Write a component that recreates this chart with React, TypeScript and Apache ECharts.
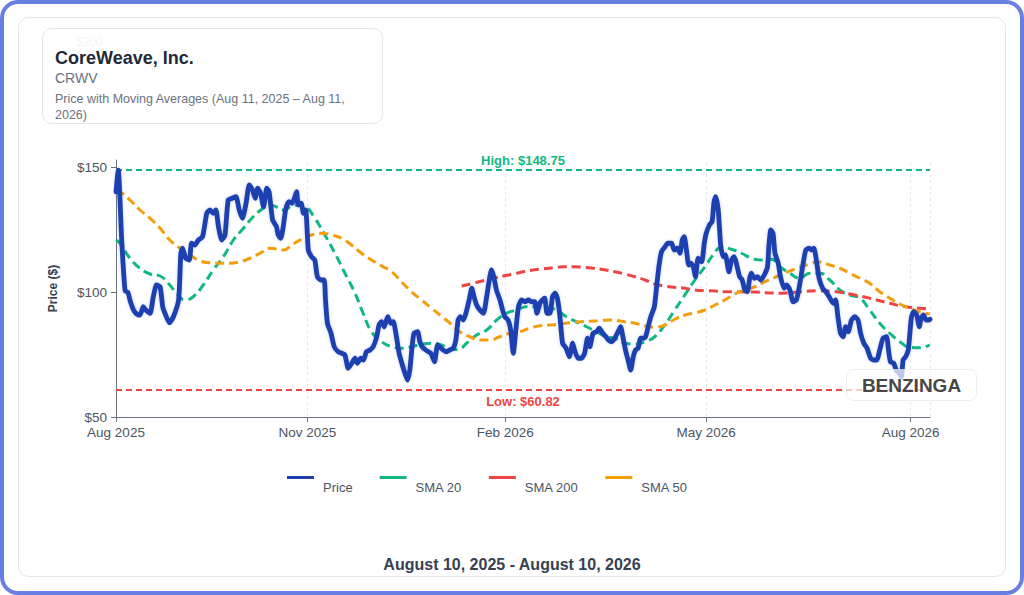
import React, { useEffect, useRef } from "react";
import * as echarts from "echarts";

// ---------- calendar (x categories = trading days) ----------
const START_DATE = "2025-08-11";
const END_DATE = "2026-08-11";
const MARKET_HOLIDAYS = [
  "2025-09-01", "2025-11-27", "2025-12-25", "2026-01-01", "2026-01-19",
  "2026-02-16", "2026-04-03", "2026-05-25", "2026-06-19", "2026-07-03",
];
const TICK_MONTHS = [1, 4, 7, 10]; // Feb, May, Aug, Nov
const MONTH_NAMES = ["Jan", "Feb", "Mar", "Apr", "May", "Jun", "Jul", "Aug", "Sep", "Oct", "Nov", "Dec"];

// ---------- values: [trading-day index, value] ----------
const PRICE: [number, number][] = [
  [0,140.1],[0.7,148.75],[1.75,121],[2.8,100.5],[3.7,99.8],[4.3,96.8],[5.4,92.8],[6.4,91.2],[7.4,90.8],[8.4,94.1],
  [9.2,92.8],[10.5,91.5],[11.5,98.1],[12.5,102.8],[13.6,102.1],[14.4,94.1],[15.1,91.5],[16.5,87.7],[17.7,90.1],[19.3,96.8],
  [20.0,115.5],[20.5,117.5],[21.5,113.5],[22.6,112.8],[23.3,119.5],[24.3,118.8],[25.4,120.8],[26.7,122.1],[28.0,131.5],[29.0,132.8],
  [30.0,131.5],[30.8,132.8],[31.6,126.1],[32.6,120.8],[33.6,122.8],[34.6,136.8],[35.9,137.5],[37.0,138.1],[38.0,132.8],[39.0,129.5],
  [40.1,135.5],[41.1,142.8],[42.1,140.8],[42.9,137.5],[43.7,141.5],[44.6,139.5],[45.5,134.1],[46.5,141.5],[47.2,140.1],[48.3,128.8],
  [49.5,126.1],[50.0,122.8],[50.8,121.5],[51.5,125.5],[52.3,132.8],[53.3,136.1],[54.3,135.5],[55.0,137.5],[55.7,140.1],[56.2,134.8],
  [57.1,135.5],[57.8,131.5],[58.5,132.8],[59.3,116.8],[60.3,114.1],[61.3,112.8],[62.1,106.1],[63.2,104.8],[64.2,104.8],[64.6,96.8],
  [65.2,87.5],[66.3,83.5],[67.3,78.1],[68.5,76.1],[69.6,75.5],[70.6,74.8],[71.6,69.5],[72.7,71.5],[73.7,73.5],[74.4,71.5],
  [75.5,73.5],[76.3,72.8],[77.2,76.1],[78.3,76.8],[79.3,78.1],[80.4,82.1],[81.1,86.8],[81.9,88.1],[82.7,86.1],[83.8,90.1],
  [84.8,87.5],[85.5,88.1],[86.3,83.5],[87.3,75.5],[88.0,72.1],[89.1,67.5],[89.9,64.8],[90.6,68.8],[91.3,78.1],[91.9,83.5],
  [93.0,84.1],[93.7,80.1],[94.4,78.1],[95.5,76.8],[96.3,76.1],[97.1,75.5],[98.2,72.1],[99.2,78.8],[100.2,77.5],[100.9,76.8],
  [101.9,76.1],[102.9,76.8],[104.0,77.5],[104.8,80.8],[105.5,88.8],[106.2,90.1],[107.1,88.8],[107.9,91.5],[108.9,96.8],[109.7,101.5],
  [110.4,98.1],[111.2,94.8],[112.2,92.8],[113.3,91.5],[114.3,98.1],[115.1,104.8],[115.8,108.8],[116.5,106.1],[117.3,100.8],[118.4,96.8],
  [119.2,92.8],[119.9,90.1],[120.9,88.8],[121.7,84.8],[122.5,75.5],[123.3,84.8],[124.1,94.1],[125.1,96.8],[126.1,96.1],[127.2,96.8],
  [128.1,96.1],[129.1,96.1],[129.8,91.5],[130.7,95.5],[131.5,96.8],[132.2,97.5],[132.9,91.5],[133.8,91.5],[134.6,98.1],[135.4,99.5],
  [136.1,97.5],[136.9,90.1],[137.7,79.5],[138.8,77.5],[139.8,74.1],[140.8,79.5],[141.4,76.8],[142.5,73.5],[143.5,73.5],[144.5,75.5],
  [145.4,81.5],[146.1,78.1],[147.1,83.5],[148.2,84.1],[149.0,85.5],[150.1,83.5],[151.1,82.1],[151.8,80.8],[152.8,80.1],[153.8,81.5],
  [154.8,84.1],[155.6,86.1],[156.3,82.1],[157.1,76.8],[157.9,72.8],[158.7,68.8],[159.5,74.1],[160.2,76.8],[161.0,77.5],[161.8,81.5],
  [162.6,81.5],[163.3,82.1],[164.1,86.1],[164.9,90.1],[166.0,94.1],[166.7,102.1],[167.4,110.1],[168.2,116.1],[169.2,117.9],[170.2,119.5],
  [171.3,119.5],[172.1,116.8],[173.1,117.5],[173.9,115.5],[174.6,120.8],[175.2,122.1],[175.9,116.8],[176.6,110.8],[177.3,111.5],[178.0,110.1],
  [178.7,106.1],[179.5,113.5],[180.6,112.1],[181.4,119.5],[182.0,123.5],[183.0,126.8],[183.8,128.1],[184.4,136.1],[184.9,138.1],[185.7,132.8],
  [186.5,118.1],[187.3,114.1],[187.9,114.8],[189.0,108.1],[189.8,112.8],[190.6,114.1],[191.3,111.5],[192.3,106.1],[193.1,104.8],[193.9,100.8],
  [194.7,100.1],[195.4,105.5],[195.9,107.5],[196.8,105.5],[197.8,106.1],[198.8,104.8],[199.9,106.8],[200.9,110.1],[201.3,118.1],[201.9,124.8],
  [202.6,123.5],[203.2,115.5],[204.2,111.5],[204.9,106.1],[206.0,101.5],[206.8,102.8],[207.8,100.8],[208.8,96.1],[209.8,96.8],[210.8,102.8],
  [211.9,111.5],[212.7,116.8],[213.7,117.5],[214.5,116.8],[215.2,117.5],[216.1,111.5],[216.8,105.5],[217.9,101.5],[218.9,100.1],[219.9,98.1],
  [221.2,95.5],[221.9,96.8],[222.6,90.1],[223.4,83.5],[224.2,82.1],[225.0,86.1],[225.8,84.1],[226.8,88.8],[227.8,90.1],[228.8,88.8],
  [229.6,83.5],[230.6,79.5],[231.6,77.5],[232.7,73.5],[233.7,72.8],[234.6,72.8],[235.5,76.8],[236.5,81.5],[237.6,82.1],[238.2,76.8],
  [238.8,72.1],[239.8,71.5],[240.6,68.8],[241.5,67.5],[242.2,66.1],[242.7,72.8],[243.5,74.1],[244.3,76.8],[244.8,83.5],[245.3,90.1],
  [246.0,92.1],[246.9,90.8],[247.7,86.1],[248.3,89.5],[249.0,90.8],[249.8,88.8],[250.6,88.8],[251,89.1],
];

const SMA20: [number, number][] = [
  [0,120.8],[1.2,119.5],[4.3,113.5],[7.4,109.5],[10.5,107.2],[13.6,106.4],[16.1,103.5],[18.7,99.5],[21.3,96.8],[23.8,98.1],
  [26.9,102.8],[30,108.8],[33.1,114.1],[36.2,120.8],[39.3,125.5],[42.3,130.1],[45.4,133.5],[47.5,134.8],[49.5,134],[51.5,132.8],
  [55.2,134.8],[58.3,134.1],[61.3,129.5],[64.4,122.8],[67.5,115.5],[70.6,107.5],[73.7,99.5],[76.2,91.5],[78.8,84.1],[81.9,80.1],
  [85,78.1],[88.1,77.5],[91.1,78.1],[94.2,79.1],[97.3,79.5],[100.4,78.8],[103,77],[105.5,77],[108.1,79.5],[111.2,82.8],
  [114.3,84.8],[117.4,88.8],[120.4,91.5],[123.5,92.8],[126.6,94.1],[129.7,94.1],[132.8,93.9],[135.8,92.8],[138.9,90.1],[142,88.1],
  [145.1,86.1],[148.2,84.1],[151.2,82.1],[153.8,81.5],[156.8,79.5],[160,79.2],[163.1,80.1],[166.1,82.1],[169.2,86.8],[172.3,92.8],
  [175.4,98.8],[178.5,104.8],[181.6,110.1],[184.1,114.8],[186.7,117.9],[189.8,117.1],[192.9,115.5],[196,113.5],[199,112.8],[202.1,113.1],
  [204.7,110.1],[207.8,107.5],[210.8,105.5],[213.9,107.5],[217,107.5],[220.1,104.8],[223.2,100.8],[226.3,98.8],[229.4,97.5],[232.4,92.8],
  [235.5,87.5],[238.6,83.5],[241.7,80.1],[244.8,77.9],[247.8,77.7],[250.9,78.8],
];

const SMA50: [number, number][] = [
  [0,140.5],[1.2,140.1],[4.3,136.8],[7.4,132.8],[10.5,129.5],[13.6,125.5],[16.6,120.8],[19.7,117.5],[22.8,114.8],[25.9,112.4],
  [29,111.7],[32.1,111.5],[35.1,111.5],[38.2,112.1],[41.3,113.5],[44.4,115.5],[47.5,117.5],[51.6,116.8],[54.2,118.8],[57.2,121.1],
  [60.3,122.8],[63.4,123.5],[66.5,122.8],[69.6,121.5],[72.6,118.8],[75.7,115.5],[78.8,112.8],[81.9,110.4],[85,108.1],[88,104.1],
  [91.1,100.1],[94.2,96.8],[97.3,93.5],[100.2,90.5],[103,87.5],[106,84.1],[109.1,82.1],[112.2,80.8],[115.3,80.8],[118.3,82.1],
  [121.4,83.5],[124.5,84.1],[127.6,85.5],[130.7,86.5],[133.8,86.8],[136.9,87.2],[139.9,87.7],[143,88.1],[146.1,88.3],[149.2,88.5],
  [152.3,88.8],[156.8,88.1],[160,87.5],[163.1,86.5],[166.1,85.9],[169.2,86.8],[172.3,89.1],[175.4,90.8],[178.5,91.7],[181.6,92.8],
  [184.7,94.8],[187.7,96.8],[190.8,99.2],[193.9,100.8],[197,102.1],[200.1,104.1],[203.1,105.8],[204.7,106.8],[207.8,108.4],[210.8,109.9],
  [213.9,111.2],[216.5,112.1],[220.1,110.8],[223.2,109.5],[226.3,107.5],[229.4,105.5],[232.4,103.5],[235.5,100.1],[238.6,97.5],[241.7,95.2],
  [244.8,93.5],[247.8,92.1],[250.9,91.2],
];

const SMA200: [number, number][] = [
  [106.6,102.4],[110.1,103.5],[113.2,104.5],[116.3,105.5],[119.4,106.4],[122.5,107.2],[125.6,108.1],[128.6,108.8],[131.7,109.3],[134.8,109.7],
  [137.9,110.1],[141,110.1],[144,109.9],[147.1,109.5],[150.5,108.9],[153.8,108.1],[156.8,107.2],[160,106.1],[163.1,104.8],[166.1,103.2],
  [169.2,102.4],[172.3,101.9],[175.4,101.5],[178.5,100.8],[181.6,100.5],[184.7,100.4],[187.7,100.1],[190.8,100.1],[193.9,100],[197,100],
  [200.1,99.7],[203.1,99.6],[204.7,99.5],[207.8,99.7],[210.8,100],[213.9,100.4],[217,100.5],[220.1,100.4],[223.2,99.9],[226.3,99.2],
  [229.4,98.4],[232.4,97.5],[235.5,96.5],[238.6,95.5],[241.7,94.5],[244.8,93.9],[247.8,93.5],[250.9,93.2],
];

const PERIOD_HIGH = 148.75;
const PERIOD_LOW = 60.82;
const Y_MIN = 50;
const Y_MAX = 152.8;
const Y_TICKS = [50, 100, 150];

const SERIES_NAMES = ["Price", "SMA 20", "SMA 200", "SMA 50"];
const COLORS = { price: "#1e40af", sma20: "#10b981", sma200: "#ef4444", sma50: "#f59e0b" };
const FONT = "'Liberation Sans', Arial, Helvetica, sans-serif";
// legend swatch: a 27x3 bar at the top of a 27x22 box (text sits lower, as in the reference)
const LEGEND_ICON = "path://M0,0H27V3H0Z M26.99,21.99H27V22H26.99Z";

function buildTradingDays(): string[] {
  const out: string[] = [];
  const d = new Date(START_DATE + "T00:00:00Z");
  const end = new Date(END_DATE + "T00:00:00Z");
  while (d.getTime() <= end.getTime()) {
    const wd = d.getUTCDay();
    const iso = d.toISOString().slice(0, 10);
    if (wd !== 0 && wd !== 6 && !MARKET_HOLIDAYS.includes(iso)) out.push(iso);
    d.setUTCDate(d.getUTCDate() + 1);
  }
  return out;
}

export default function App() {
  const ref = useRef<HTMLDivElement>(null);

  useEffect(() => {
    if (!ref.current) return;
    const chart = echarts.init(ref.current, undefined, { renderer: "svg" });

    const days = buildTradingDays();
    const lastIdx = days.length - 1;
    const tickIdx: number[] = [];
    const tickLabel: Record<number, string> = {};
    days.forEach((iso, i) => {
      const y = +iso.slice(0, 4);
      const m = +iso.slice(5, 7) - 1;
      const prevM = i > 0 ? +days[i - 1].slice(5, 7) - 1 : -1;
      if (i === 0 || (m !== prevM && TICK_MONTHS.includes(m))) {
        tickIdx.push(i);
        tickLabel[i] = `${MONTH_NAMES[m]} ${y}`;
      }
    });
    const gridXs = [...tickIdx.filter((i) => i > 0), lastIdx];

    const smaSeries = (name: string, data: [number, number][], color: string) => ({
      name,
      type: "line",
      data,
      showSymbol: false,
      smooth: true,
      z: 3,
      emphasis: { disabled: true },
      itemStyle: { color },
      lineStyle: { color, width: 3, type: [9, 5] },
    });

    chart.setOption({
      animation: false,
      textStyle: { fontFamily: FONT },
      grid: { left: 116, right: 94, top: 160, bottom: 178 },
      legend: {
        data: SERIES_NAMES,
        left: 287,
        top: 476,
        padding: 0,
        icon: LEGEND_ICON,
        itemWidth: 27,
        itemHeight: 22,
        itemGap: 27,
        selectedMode: false,
        textStyle: { fontSize: 13, color: "#4b5563", fontFamily: FONT, padding: [0, 0, 0, 4] },
      },
      xAxis: {
        type: "value",
        min: 0,
        max: lastIdx,
        axisLine: { show: true, lineStyle: { color: "#6b7280", width: 1 } },
        axisTick: { show: true, customValues: tickIdx, length: 5, lineStyle: { color: "#6b7280" } },
        axisLabel: {
          customValues: tickIdx,
          formatter: (v: number) => tickLabel[Math.round(v)] ?? "",
          color: "#4b5563",
          fontSize: 13.5,
          margin: 8,
          fontFamily: FONT,
        },
        splitLine: { show: false },
      },
      yAxis: {
        type: "value",
        min: Y_MIN,
        max: Y_MAX,
        name: "Price ($)",
        nameLocation: "middle",
        nameGap: 57,
        nameTextStyle: { fontWeight: "bold", fontSize: 12, color: "#374151", fontFamily: FONT },
        axisLine: { show: true, lineStyle: { color: "#6b7280", width: 1 } },
        axisTick: { show: true, customValues: Y_TICKS, length: 5, lineStyle: { color: "#6b7280" } },
        axisLabel: {
          customValues: Y_TICKS,
          formatter: (v: number) => "$" + v,
          color: "#4b5563",
          fontSize: 13.5,
          margin: 9,
          fontFamily: FONT,
        },
        splitLine: { show: false },
      },
      series: [
        {
          name: "reference",
          type: "line",
          data: [],
          silent: true,
          z: 1,
          markLine: {
            symbol: "none",
            silent: true,
            animation: false,
            z: 1,
            data: [
              ...gridXs.map((x) => ({
                xAxis: x,
                lineStyle: { color: "#e5e7eb", type: [3, 3], width: 1 },
                label: { show: false },
              })),
              {
                yAxis: PERIOD_HIGH,
                lineStyle: { color: COLORS.sma20, type: [6, 4], width: 2 },
                label: {
                  show: true,
                  position: "insideMiddleTop",
                  distance: 3,
                  formatter: `High: $${PERIOD_HIGH.toFixed(2)}`,
                  color: COLORS.sma20,
                  fontWeight: "bold",
                  fontSize: 13,
                  fontFamily: FONT,
                },
              },
              {
                yAxis: PERIOD_LOW,
                lineStyle: { color: COLORS.sma200, type: [6, 4], width: 2 },
                label: {
                  show: true,
                  position: "insideMiddleBottom",
                  distance: 5,
                  formatter: `Low: $${PERIOD_LOW.toFixed(2)}`,
                  color: COLORS.sma200,
                  fontWeight: "bold",
                  fontSize: 13,
                  fontFamily: FONT,
                },
              },
            ],
          },
        },
        {
          name: "Price",
          type: "line",
          data: PRICE,
          showSymbol: false,
          smooth: 0.2,
          z: 4,
          emphasis: { disabled: true },
          itemStyle: { color: COLORS.price },
          lineStyle: {
            color: COLORS.price,
            width: 4.8,
            cap: "round",
            join: "round",
            shadowColor: "rgba(30,64,175,0.25)",
            shadowBlur: 3,
          },
        },
        smaSeries("SMA 20", SMA20, COLORS.sma20),
        smaSeries("SMA 200", SMA200, COLORS.sma200),
        smaSeries("SMA 50", SMA50, COLORS.sma50),
      ],
      graphic: [
        {
          type: "rect",
          z: -20,
          silent: true,
          shape: { x: 2, y: 2, width: 1020, height: 591, r: 16 },
          style: { fill: "#ffffff", stroke: "#6a7fe3", lineWidth: 4 },
        },
        {
          type: "rect",
          z: -19,
          silent: true,
          shape: { x: 18.5, y: 17.5, width: 987, height: 559, r: 10 },
          style: { fill: "#ffffff", stroke: "#e5e7eb", lineWidth: 1 },
        },
        {
          type: "text",
          z: 40,
          x: 76,
          y: 42,
          silent: true,
          style: { text: "$200", fill: "#b9bfcc", fontSize: 12, fontFamily: FONT, verticalAlign: "middle" },
        },
        {
          type: "rect",
          z: 60,
          silent: true,
          shape: { x: 42.5, y: 28.5, width: 340, height: 95, r: 9 },
          style: { fill: "rgba(255,255,255,0.82)", stroke: "#e5e7eb", lineWidth: 1 },
        },
        {
          type: "text",
          z: 61,
          x: 55,
          y: 58,
          style: {
            text: "CoreWeave, Inc.",
            fill: "#1f2937",
            fontSize: 18,
            fontWeight: "bold",
            fontFamily: FONT,
            verticalAlign: "middle",
          },
        },
        {
          type: "text",
          z: 61,
          x: 55,
          y: 78,
          style: { text: "CRWV", fill: "#6b7280", fontSize: 14, fontFamily: FONT, verticalAlign: "middle" },
        },
        {
          type: "text",
          z: 61,
          x: 55,
          y: 99,
          style: {
            text: "Price with Moving Averages (Aug 11, 2025 – Aug 11,",
            fill: "#6b7280",
            fontSize: 12.5,
            fontFamily: FONT,
            verticalAlign: "middle",
          },
        },
        {
          type: "text",
          z: 61,
          x: 55,
          y: 114.5,
          style: { text: "2026)", fill: "#6b7280", fontSize: 12.5, fontFamily: FONT, verticalAlign: "middle" },
        },
        {
          type: "rect",
          z: 60,
          silent: true,
          shape: { x: 846.5, y: 369.5, width: 130, height: 31, r: 7 },
          style: { fill: "rgba(255,255,255,0.72)", stroke: "rgba(229,231,235,0.7)", lineWidth: 1 },
        },
        {
          type: "text",
          z: 61,
          x: 911.5,
          y: 385.5,
          style: {
            text: "BENZINGA",
            fill: "#474747",
            fontSize: 19,
            fontWeight: "bold",
            fontFamily: FONT,
            align: "center",
            verticalAlign: "middle",
          },
        },
        {
          type: "text",
          z: 61,
          x: 512,
          y: 564,
          style: {
            text: "August 10, 2025 - August 10, 2026",
            fill: "#374151",
            fontSize: 16,
            fontWeight: "bold",
            fontFamily: FONT,
            align: "center",
            verticalAlign: "middle",
          },
        },
      ],
    });

    return () => chart.dispose();
  }, []);

  return (
    <div
      ref={ref}
      style={{ position: "absolute", left: 0, top: 0, width: 1024, height: 595 }}
    />
  );
}
